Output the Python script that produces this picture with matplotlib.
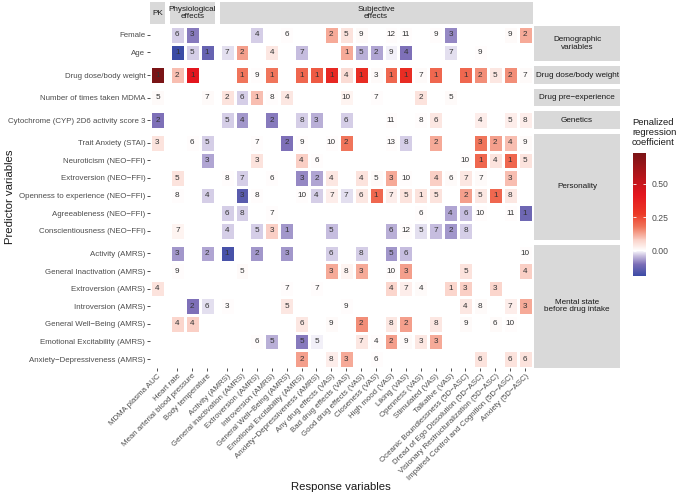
import numpy as np
import matplotlib
matplotlib.use("Agg")
from matplotlib import pyplot as plt
from matplotlib.colors import LinearSegmentedColormap, Normalize
from matplotlib.cm import ScalarMappable

plt.rcParams['font.family'] = ['Liberation Sans', 'DejaVu Sans']

responses = ['MDMA plasma AUC', 'Heart rate', 'Mean arterial blood pressure', 'Body temperature',
             'Activity (AMRS)', 'General inactivation (AMRS)', 'Extroversion (AMRS)',
             'Introversion (AMRS)', 'General Well\u2212Being (AMRS)', 'Emotional Excitability (AMRS)',
             'Anxiety\u2212Depressiveness (AMRS)', 'Any drug effects (VAS)', 'Bad drug effects (VAS)',
             'Good drug effects (VAS)', 'Closeness (VAS)', 'High mood (VAS)', 'Liking (VAS)',
             'Openness (VAS)', 'Stimulated (VAS)', 'Talkative (VAS)',
             'Oceanic Boundlessness (5D\u2212ASC)', 'Dread of Ego Dissolution (5D\u2212ASC)',
             'Visionary Restructuralization (5D\u2212ASC)', 'Impaired Control and Cognition (5D\u2212ASC)',
             'Anxiety (5D\u2212ASC)']
resp_groups = ['PK', 'Physiological\neffects', 'Subjective\neffects']
resp_sizes = [1, 3, 21]

predictors = ['Female', 'Age', 'Drug dose/body weight', 'Number of times taken MDMA',
              'Cytochrome (CYP) 2D6 activity score 3', 'Trait Anxiety (STAI)',
              'Neuroticism (NEO\u2212FFI)', 'Extroversion (NEO\u2212FFI)',
              'Openness to experience (NEO\u2212FFI)', 'Agreeableness (NEO\u2212FFI)',
              'Conscientiousness (NEO\u2212FFI)', 'Activity (AMRS)', 'General Inactivation (AMRS)',
              'Extroversion (AMRS)', 'Introversion (AMRS)', 'General Well\u2212Being (AMRS)',
              'Emotional Excitability (AMRS)', 'Anxiety\u2212Depressiveness (AMRS)']
pred_groups = ['Demographic\nvariables', 'Drug dose/body weight', 'Drug pre\u2212experience',
               'Genetics', 'Personality', 'Mental state\nbefore drug intake']
pred_sizes = [2, 1, 1, 1, 6, 7]

# per predictor: {response index: (rank, coefficient)}
cells = [
    {1: (6, -0.03), 2: (3, -0.09), 6: (4, -0.03), 8: (6, 0.005), 11: (2, 0.12), 12: (5, 0.05),
     13: (9, 0.01), 15: (12, 0.005), 16: (11, 0.005), 18: (9, 0.005), 19: (3, -0.08),
     23: (9, 0.01), 24: (2, 0.12)},
    {1: (1, -0.19), 2: (5, -0.03), 3: (1, -0.13), 4: (7, -0.02), 5: (2, 0.13), 7: (4, 0.04),
     9: (7, -0.04), 12: (1, 0.12), 13: (5, -0.05), 14: (2, -0.06), 15: (9, -0.01),
     16: (4, -0.1), 19: (7, -0.02), 21: (9, 0.005)},
    {0: (1, 0.73), 1: (2, 0.1), 2: (1, 0.42), 5: (1, 0.18), 6: (9, 0.005), 7: (1, 0.18),
     9: (1, 0.2), 10: (1, 0.22), 11: (1, 0.35), 12: (4, 0.06), 13: (1, 0.33), 14: (3, 0.01),
     15: (1, 0.2), 16: (1, 0.33), 17: (7, 0.01), 18: (1, 0.2), 20: (1, 0.2), 21: (2, 0.15),
     22: (5, 0.04), 23: (2, 0.15), 24: (7, 0.01)},
    {0: (5, 0.01), 3: (7, 0.01), 4: (2, 0.05), 5: (6, -0.03), 6: (1, 0.1), 7: (8, 0.005),
     8: (4, 0.04), 12: (10, 0.02), 14: (7, 0.005), 17: (2, 0.05), 19: (5, 0.01)},
    {0: (2, -0.1), 4: (5, -0.03), 5: (4, -0.07), 7: (2, -0.09), 9: (8, -0.03), 10: (3, -0.05),
     12: (6, -0.03), 15: (11, 0.005), 17: (8, 0.005), 18: (6, 0.04), 21: (4, 0.03),
     23: (5, 0.03), 24: (8, 0.03)},
    {0: (3, 0.05), 2: (6, 0.005), 3: (5, -0.03), 6: (7, 0.005), 8: (2, -0.1), 9: (9, 0.005),
     11: (10, 0.005), 12: (2, 0.18), 15: (13, 0.005), 16: (8, -0.03), 18: (2, 0.12),
     21: (3, 0.18), 22: (2, 0.13), 23: (4, 0.1), 24: (9, 0.01)},
    {3: (3, -0.06), 6: (3, 0.05), 9: (4, 0.08), 10: (6, 0.005), 20: (10, 0.005), 21: (1, 0.2),
     22: (4, 0.05), 23: (1, 0.2), 24: (5, 0.05)},
    {1: (5, 0.05), 4: (8, 0.005), 5: (7, -0.03), 7: (6, 0.005), 9: (3, -0.08), 10: (2, -0.06),
     11: (4, 0.04), 13: (4, 0.05), 14: (5, 0.01), 15: (3, 0.12), 16: (10, 0.005),
     18: (4, 0.08), 19: (6, 0.01), 20: (7, 0.04), 21: (7, 0.01), 23: (3, 0.1)},
    {1: (8, 0.005), 3: (4, -0.03), 5: (3, -0.15), 6: (8, 0.005), 9: (10, 0.005), 10: (4, -0.03),
     11: (7, 0.03), 12: (7, -0.02), 13: (6, 0.04), 14: (1, 0.2), 15: (7, 0.03), 16: (5, 0.05),
     17: (1, 0.05), 18: (5, 0.05), 20: (2, 0.13), 21: (5, 0.04), 22: (1, 0.2), 23: (8, 0.04)},
    {4: (6, -0.03), 5: (8, -0.03), 7: (7, 0.005), 17: (6, 0.005), 19: (4, -0.06),
     20: (6, -0.04), 21: (10, 0.005), 23: (11, 0.005), 24: (1, -0.12)},
    {1: (7, 0.02), 4: (4, -0.03), 6: (5, -0.03), 7: (3, 0.08), 8: (1, -0.07), 11: (5, -0.04),
     15: (6, -0.05), 16: (12, 0.005), 17: (5, -0.02), 18: (7, -0.04), 19: (2, -0.07),
     20: (8, -0.03)},
    {1: (3, -0.07), 3: (2, -0.06), 4: (1, -0.17), 6: (2, -0.07), 8: (3, -0.07), 11: (6, -0.03),
     13: (8, -0.03), 15: (5, -0.07), 16: (6, -0.04), 24: (10, 0.005)},
    {1: (9, 0.005), 5: (5, 0.01), 11: (3, 0.12), 12: (8, 0.02), 13: (3, 0.12), 15: (10, 0.005),
     16: (3, 0.13), 20: (5, 0.05), 24: (4, 0.08)},
    {0: (4, 0.05), 8: (7, 0.005), 10: (7, 0.005), 15: (4, 0.07), 16: (7, 0.03), 17: (4, 0.01),
     19: (1, 0.07), 20: (3, 0.08), 22: (3, 0.07)},
    {2: (2, -0.1), 3: (6, -0.02), 4: (3, 0.005), 8: (5, 0.04), 12: (9, 0.005), 20: (4, 0.04),
     21: (8, 0.01), 23: (7, 0.03), 24: (3, 0.12)},
    {1: (4, 0.07), 2: (4, 0.08), 9: (6, 0.04), 11: (9, 0.01), 13: (2, 0.15), 15: (8, 0.04),
     16: (2, 0.13), 18: (8, 0.04), 20: (9, 0.01), 22: (6, 0.01), 23: (10, 0.005)},
    {6: (6, 0.005), 7: (5, -0.05), 9: (5, -0.09), 10: (5, -0.01), 13: (7, 0.04), 14: (4, 0.005),
     15: (2, 0.13), 16: (9, 0.01), 17: (3, 0.04), 18: (3, 0.12)},
    {9: (2, 0.13), 11: (8, 0.03), 12: (3, 0.12), 14: (6, 0.005), 21: (6, 0.05), 23: (6, 0.05),
     24: (6, 0.05)},
]

vmin, vmax = -0.19, 0.73
anchors = [(-0.19, '#3B4BA5'), (-0.10, '#7E70B8'), (-0.04, '#C9C0E0'), (0.0, '#FFFFFF'),
           (0.08, '#FAD0C6'), (0.17, '#F07A60'), (0.27, '#EC3B27'), (0.42, '#E3161E'),
           (0.73, '#7A1416')]
cmap = LinearSegmentedColormap.from_list(
    'coef', [((v - vmin) / (vmax - vmin), c) for v, c in anchors])
norm = Normalize(vmin, vmax)

nr, nc = len(predictors), len(responses)
coef = np.full((nr, nc), np.nan)
rank = np.zeros((nr, nc), dtype=int)
for i, row in enumerate(cells):
    for j, (rk, cf) in row.items():
        coef[i, j] = cf
        rank[i, j] = rk

W, H = 679, 494
fig = plt.figure(figsize=(W / 100, H / 100), dpi=100)

def fax(x0, y0, x1, y1):
    return fig.add_axes([x0 / W, 1 - y1 / H, (x1 - x0) / W, (y1 - y0) / H])

cw, rh, gap = 14.9, 17.6, 5.0
px0, py0 = 150.0, 26.0
tick_col = '#333333'
lab_col = '#4D4D4D'

col_edges = []
x = px0
for n in resp_sizes:
    col_edges.append((x, x + n * cw))
    x += n * cw + gap
row_edges = []
y = py0
for n in pred_sizes:
    row_edges.append((y, y + n * rh))
    y += n * rh + gap

r_start = np.cumsum([0] + pred_sizes)
c_start = np.cumsum([0] + resp_sizes)

for gi, (ya, yb) in enumerate(row_edges):
    for gj, (xa, xb) in enumerate(col_edges):
        ax = fax(xa, ya, xb, yb)
        r0, r1 = r_start[gi], r_start[gi + 1]
        c0, c1 = c_start[gj], c_start[gj + 1]
        sub = np.ma.masked_invalid(coef[r0:r1, c0:c1])
        ax.pcolormesh(np.arange(c1 - c0 + 1), np.arange(r1 - r0 + 1), sub, cmap=cmap, norm=norm,
                      edgecolors='white', linewidth=0.8)
        for i in range(r0, r1):
            for j in range(c0, c1):
                if rank[i, j]:
                    ax.text(j - c0 + 0.5, i - r0 + 0.5, str(rank[i, j]), ha='center', va='center',
                            fontsize=5.9, color='#333333')
        ax.set_xlim(0, c1 - c0)
        ax.set_ylim(r1 - r0, 0)
        for s in ax.spines.values():
            s.set_visible(False)
        ax.tick_params(length=2.2, width=0.6, color=tick_col, pad=1.2, labelsize=5.7,
                       labelcolor=lab_col)
        if gj == 0:
            ax.set_yticks(np.arange(r1 - r0) + 0.5)
            ax.set_yticklabels(predictors[r0:r1])
        else:
            ax.set_yticks([])
        if gi == len(row_edges) - 1:
            ax.set_xticks(np.arange(c1 - c0) + 0.5)
            ax.set_xticklabels(responses[c0:c1], rotation=45, ha='right', rotation_mode='anchor')
        else:
            ax.set_xticks([])

# top strips
for gj, (xa, xb) in enumerate(col_edges):
    sax = fax(xa, 2, xb, 24.5)
    sax.set_facecolor('#D9D9D9')
    sax.set_xticks([]); sax.set_yticks([])
    for s in sax.spines.values():
        s.set_visible(False)
    sax.text(0.5, 0.5, resp_groups[gj], ha='center', va='center', fontsize=5.9,
             color='#1A1A1A', linespacing=1.05, transform=sax.transAxes)

# right strips
for gi, (ya, yb) in enumerate(row_edges):
    sax = fax(534, ya, 620, yb)
    sax.set_facecolor('#D9D9D9')
    sax.set_xticks([]); sax.set_yticks([])
    for s in sax.spines.values():
        s.set_visible(False)
    sax.text(0.5, 0.5, pred_groups[gi], ha='center', va='center', fontsize=5.9,
             color='#1A1A1A', linespacing=1.1, transform=sax.transAxes)

# axis titles
fig.text(10 / W, 1 - ((py0 + row_edges[-1][1]) / 2) / H, 'Predictor variables', rotation=90,
         ha='center', va='center', fontsize=8.2, color='#1A1A1A')
fig.text(((px0 + col_edges[-1][1]) / 2) / W, 1 - 487 / H, 'Response variables',
         ha='center', va='center', fontsize=8.2, color='#1A1A1A')

# colour bar
cax = fax(633, 153, 646, 276)
cb = fig.colorbar(ScalarMappable(norm=norm, cmap=cmap), cax=cax, ticks=[0, 0.25, 0.5])
cb.outline.set_visible(False)
cb.ax.set_yticklabels(['0.00', '0.25', '0.50'])
cb.ax.tick_params(direction='in', length=2.5, width=0.6, colors='white', labelsize=6.2,
                  left=True, right=True, pad=4)
for t in cb.ax.get_yticklabels():
    t.set_color(lab_col)
fig.text(632 / W, 1 - 118 / H, 'Penalized\nregression\ncoefficient', ha='left', va='top',
         fontsize=6.8, color='#1A1A1A', linespacing=1.15)

fig.savefig('out.png', dpi=100)
